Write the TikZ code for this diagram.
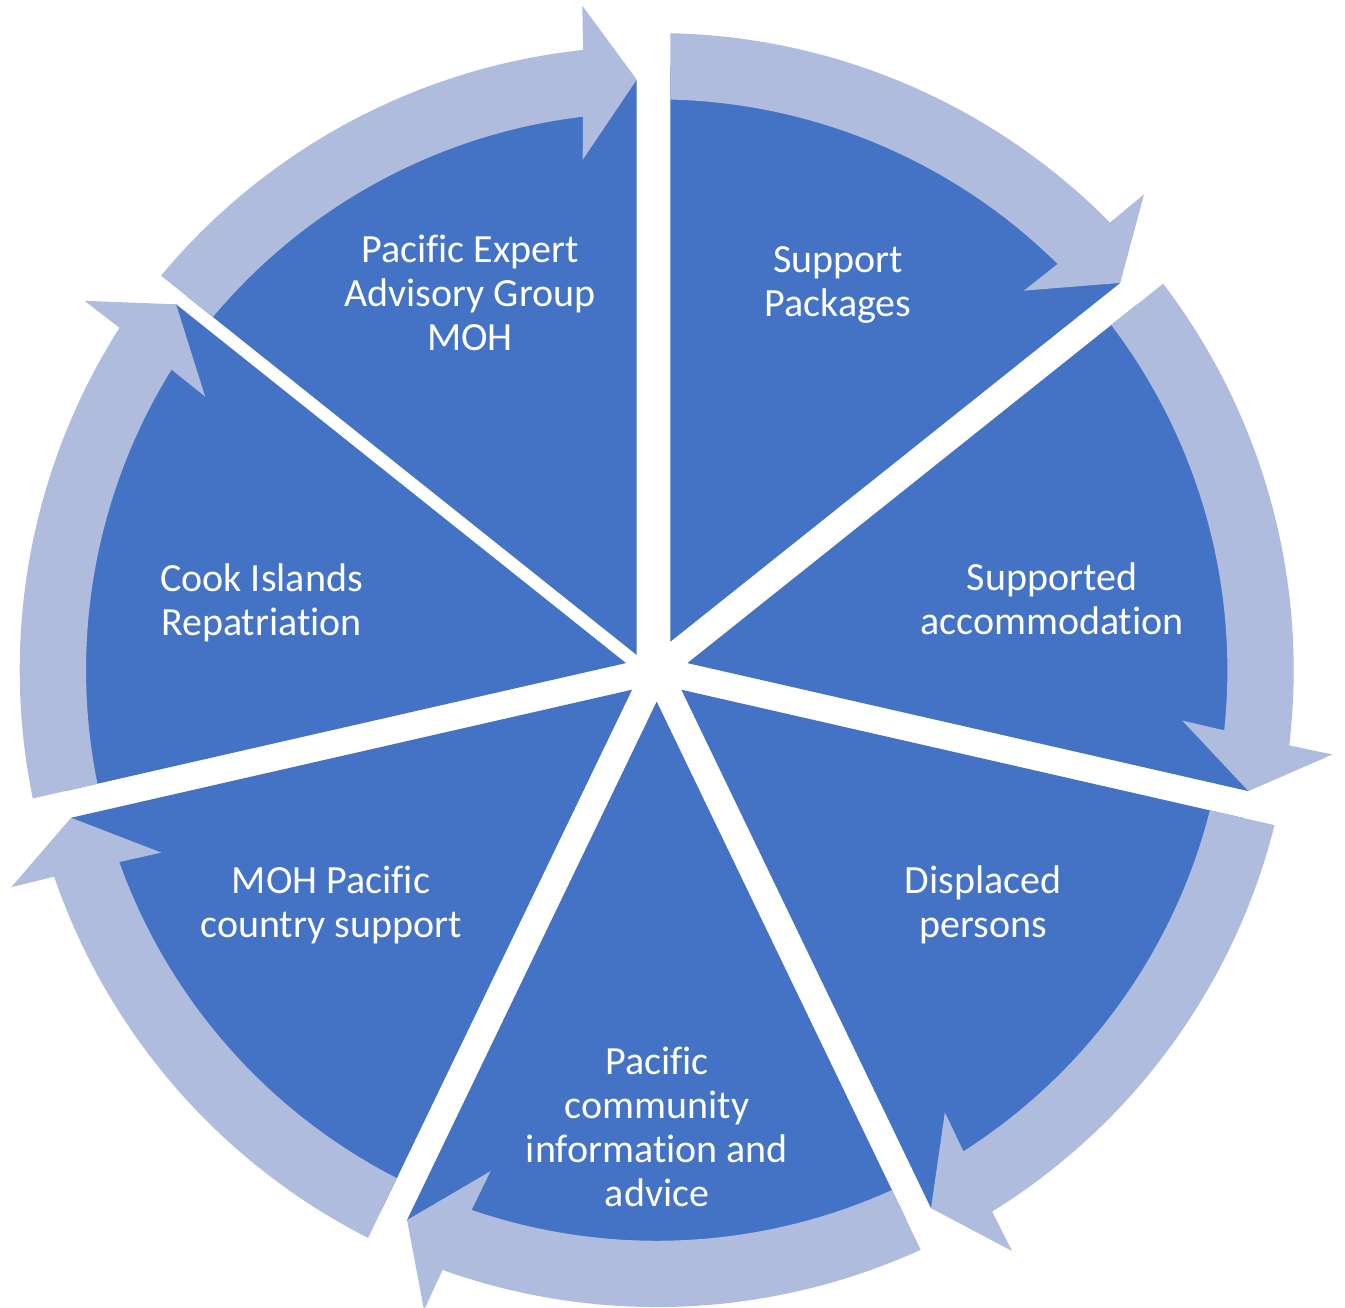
\documentclass[tikz,border=0pt]{standalone}
\usepackage{fontspec}
\setmainfont{Carlito}[Ligatures={NoCommon}]
\definecolor{segblue}{RGB}{68,114,196}
\definecolor{arrowlight}{RGB}{175,188,222}
\tikzset{
  seglabel/.style={text=white, align=center, inner sep=0pt, font=\fontsize{40}{44}\selectfont},
  slicefill/.style={fill=segblue},
  arrowfill/.style={fill=arrowlight}
}
% #1 = head angle (clockwise end of the segment), #2,#3 = extra shift of the group
\newcommand\cyclesegment[3]{%
  \pgfmathsetmacro\sa{#1}%
  \pgfmathsetmacro\sb{#1+51.428571}%
  \pgfmathsetmacro\sm{#1+25.714286}%
  \pgfmathsetmacro\st{#1+1.297}%
  \pgfmathsetmacro\tailang{\sb+3}%
  \pgfmathsetmacro\jo{\st+4.77}%
  \pgfmathsetmacro\wo{\st+4.44}%
  \pgfmathsetmacro\wi{\st+6.07}%
  \pgfmathsetmacro\ji{\st+5.5}%
  \begin{scope}[shift={(C)}, shift={(#2,#3)}]
    \clip (\sm:31.5pt) -- +(\sa:900pt) -- +(\sb:900pt) -- cycle;
    \path[slicefill] (0,0) circle[radius=604pt];
    \path[arrowfill] (\tailang:637pt) arc[start angle=\tailang, end angle=\jo, radius=637pt]
      -- (\wo:681pt) -- (\st:604pt) -- (\wi:528pt) -- (\ji:570.7pt)
      arc[start angle=\ji, end angle=\tailang, radius=570.7pt] -- cycle;
  \end{scope}%
}
\begin{document}
\begin{tikzpicture}[x=1pt,y=1pt]
\useasboundingbox (0,0) rectangle (1345,1308);
\coordinate (C) at (656.7,637.9);

\cyclesegment{38.571429}{0}{0}
\cyclesegment{-12.857143}{0}{0}
\cyclesegment{-64.285714}{0}{0}
\cyclesegment{-115.714286}{0}{0}
\cyclesegment{-167.142857}{0}{0}
\cyclesegment{141.428571}{0}{0}
\cyclesegment{90}{-6.3}{-13.3}

\node[seglabel] (pe) at (470,1015) {Pacific Expert\\Advisory Group\\MOH};
\node[seglabel] (sp) at (838,1023) {Support\\Packages};
\node[seglabel] (acc) at (1052,709) {Supported\\accommodation};
\node[seglabel] (disp) at (983,403) {Displaced\\persons};
\node[seglabel] (pc) at (657,181) {Pacific\\community\\information and\\advice};
\node[seglabel] (moh) at (331,403) {MOH Pacific\\country support};
\node[seglabel] (cook) at (261.5,705) {Cook Islands\\Repatriation};
\end{tikzpicture}
\end{document}
